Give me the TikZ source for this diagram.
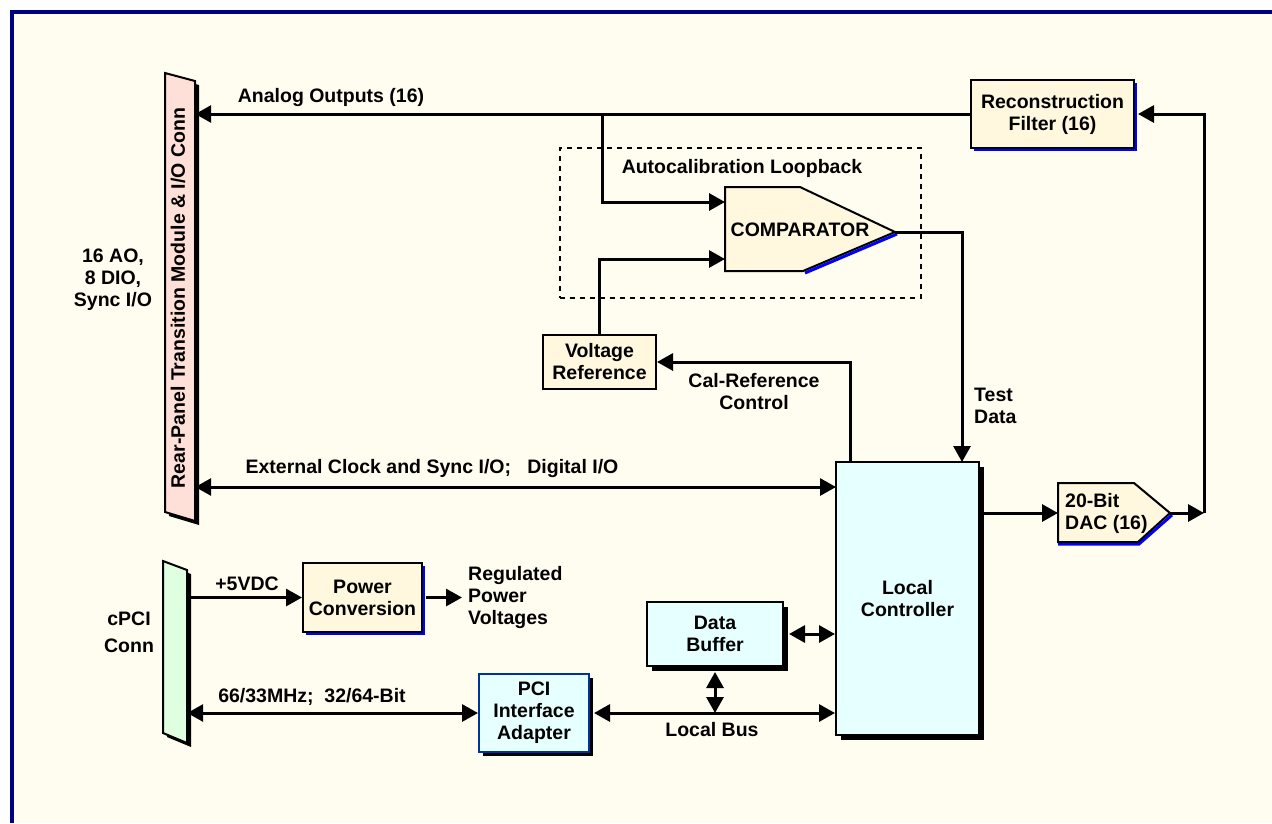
\documentclass[tikz,border=0pt]{standalone}
\usepackage{fontspec}
\setmainfont{Liberation Sans}
\usepackage{tikz}
\usetikzlibrary{arrows.meta, positioning, calc, shadows}
\usepackage{xcolor}
\definecolor{pagebg}{HTML}{FFFDF0}
\definecolor{framenavy}{HTML}{000080}
\definecolor{boxyellow}{HTML}{FFF8DE}
\definecolor{boxcyan}{HTML}{E6FFFF}
\definecolor{rearpink}{HTML}{FFE0D8}
\definecolor{cpcigreen}{HTML}{E0FFE0}
\definecolor{shadowblue}{HTML}{0000FF}
\definecolor{pciblue}{HTML}{003399}

\begin{document}
\begin{tikzpicture}[x=1pt, y=-1pt,
    font=\fontsize{19.5}{22}\selectfont\bfseries,
    arr/.style={line width=3pt, -{Triangle[length=16pt, width=17pt]}},
    dbl/.style={line width=3pt, {Triangle[length=16pt, width=17pt]}-{Triangle[length=16pt, width=17pt]}},
    blockbox/.style={draw, line width=2pt, align=center, inner sep=0pt},
    yelbox/.style={blockbox, fill=boxyellow},
    cyanbox/.style={blockbox, fill=boxcyan},
    blueshadow/.style={drop shadow={shadow xshift=3pt, shadow yshift=-3pt, fill=shadowblue, opacity=1}},
    blackshadow/.style={drop shadow={shadow xshift=5pt, shadow yshift=-5pt, fill=black, opacity=1}},
    lbl/.style={align=center, inner sep=0pt}]

    % page and frame
    \useasboundingbox (0,0) rectangle (1272,823);
    \fill[white] (0,0) rectangle (1272,823);
    \fill[pagebg] (12,12) rectangle (1272,823);
    \draw[framenavy, line width=4pt] (12,823) -- (12,12) -- (1272,12);

    % connectors
    \fill[black, shift={(4,4)}] (165,73) -- (195,81) -- (195,521) -- (165,512) -- cycle;
    \filldraw[fill=rearpink, line width=2pt] (165,73) -- (195,81) -- (195,521) -- (165,512) -- cycle;
    \node[minimum width=30, minimum height=440, inner sep=0pt] (rear) at (180,297) {};
    \node[rotate=90, inner sep=0pt] (reartxt) at (178,298) {Rear-Panel Transition Module \& I/O Conn};
    \node[lbl] (rearlbl) at (113,280) {16 AO,\\8 DIO,\\Sync I/O};

    \fill[black, shift={(4,4)}] (163,561) -- (187,570) -- (187,743) -- (163,733) -- cycle;
    \filldraw[fill=cpcigreen, line width=2pt] (163,561) -- (187,570) -- (187,743) -- (163,733) -- cycle;
    \node[minimum width=24, minimum height=170, inner sep=0pt] (cpci) at (175,652) {};
    \node[lbl, font=\fontsize{19.5}{27}\selectfont\bfseries] (cpcilbl) at (129,632) {cPCI\\Conn};

    % blocks
    \node[yelbox, blueshadow, minimum width=163, minimum height=68] (filter) at (1052.5,114) {Reconstruction\\Filter (16)};
    \node[yelbox, minimum width=113, minimum height=54] (vref) at (599.5,362) {Voltage\\Reference};
    \node[yelbox, blueshadow, minimum width=119, minimum height=69] (pwr) at (362.5,597.5) {Power\\Conversion};
    \node[cyanbox, blackshadow, minimum width=143, minimum height=273] (lc) at (907.5,598.5) {Local\\Controller};
    \node[cyanbox, blackshadow, minimum width=136, minimum height=64] (db) at (715,634) {Data\\Buffer};
    \node[cyanbox, draw=pciblue, drop shadow={shadow xshift=4pt, shadow yshift=-4pt, fill=black, opacity=1},
          minimum width=110, minimum height=78] (pci) at (534,713) {PCI\\Interface\\Adapter};

    % autocalibration loopback
    \node[draw, dashed, dash pattern=on 5pt off 5pt, line width=2.5pt, minimum width=361, minimum height=150,
          inner sep=0pt] (loop) at (740.5,223) {};
    \node[lbl] (looplbl) at (742,168) {Autocalibration Loopback};

    \draw[line width=3pt, shadowblue] (805,273) -- (897,234);
    \filldraw[fill=boxyellow, line width=2pt] (725,187) -- (800,187) -- (895,232) -- (803,271) -- (725,271) -- cycle;
    \node[inner sep=0pt] (cmp) at (800,230) {COMPARATOR};
    \coordinate (cmpin1) at (725,202);
    \coordinate (cmpin2) at (725,259);
    \coordinate (cmpout) at (895,232);

    % DAC
    \draw[line width=3pt, shadowblue] (1058,544) -- (1139,544) -- (1172,515);
    \filldraw[fill=boxyellow, line width=2pt] (1058,483) -- (1134,483) -- (1170,513) -- (1138,542) -- (1058,542) -- cycle;
    \node[align=left, anchor=west, inner sep=0pt] (dac) at (1065,513) {20-Bit\\DAC (16)};
    \coordinate (dacin) at (1058,513);
    \coordinate (dacout) at (1170,513);
    \coordinate (dacjoin) at (1204,513);

    % connections
    \coordinate (tap) at (602,114);
    \coordinate (calout) at (850,462);
    \coordinate (tdin) at (962,462);
    \coordinate (extin) at (836,487);
    \coordinate (regout) at (462,597.5);

    \draw[arr] (filter.west) -- (filter.west -| rear.east);
    \node[lbl] (aolbl) at (331,97) {Analog Outputs (16)};
    \draw[arr] (tap) |- (cmpin1);
    \draw[arr] (vref.north) |- (cmpin2);
    \draw[arr] (calout) |- (vref.east);
    \node[lbl] (callbl) at (754,392) {Cal-Reference\\Control};
    \draw[arr] (cmpout) -| (tdin);
    \node[lbl, align=left, anchor=west] (tdlbl) at (974,406) {Test\\Data};

    \draw[dbl] (rear.east |- extin) -- (extin);
    \node[lbl] (extlbl) at (432,468) {External Clock and Sync I/O;\ \ \ Digital I/O};

    \draw[arr] (lc.east |- dacin) -- (dacin);
    \draw[arr] (dacout) -- (dacjoin);
    \draw[arr] (dacjoin) |- ([xshift=3pt]filter.east);

    \draw[arr] (cpci.east |- pwr.west) -- (pwr.west);
    \node[lbl] (vdclbl) at (247,584) {+5VDC};
    \draw[arr] ([xshift=3pt]pwr.east) -- (regout);
    \node[lbl, align=left, anchor=west] (reglbl) at (468,597) {Regulated\\Power\\Voltages};

    \draw[dbl] (cpci.east |- pci.west) -- (pci.west);
    \node[lbl] (pcilbl) at (312,697) {66/33MHz;\ \ 32/64-Bit};
    \draw[dbl] ([xshift=4pt]pci.east) -- (lc.west |- pci.east);
    \node[lbl] (buslbl) at (712,730) {Local Bus};
    \draw[dbl] ([xshift=5pt]db.east) -- (lc.west |- db.east);
    \draw[dbl] ([yshift=-5pt]db.south) -- (db.south |- pci.east);
\end{tikzpicture}
\end{document}
